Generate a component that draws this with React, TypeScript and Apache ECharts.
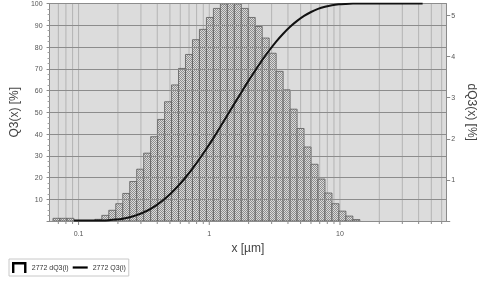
import React, { useEffect, useRef } from 'react';
import * as echarts from 'echarts';

// Class edges in µm and dQ3 per class in %
const classEdges = [
  0.0637, 0.0721, 0.0815, 0.0921, 0.1042, 0.1178, 0.1332, 0.1506, 0.1703, 0.1926,
  0.2178, 0.2462, 0.2784, 0.3148, 0.3559, 0.4024, 0.455, 0.5145, 0.5818, 0.6578,
  0.7438, 0.8411, 0.9512, 1.0755, 1.2161, 1.3751, 1.5549, 1.7582, 1.988, 2.248,
  2.5419, 2.8743, 3.2501, 3.675, 4.1555, 4.6989, 5.3133, 6.008, 6.7935, 7.6818,
  8.6859, 9.8188, 11.102, 12.554, 14.195,
];
const dQ3 = [
  0.065, 0.065, 0.065, 0, 0, 0, 0.04, 0.137, 0.26, 0.42,
  0.67, 0.96, 1.26, 1.65, 2.05, 2.47, 2.9, 3.31, 3.71, 4.05,
  4.41, 4.66, 4.95, 5.17, 5.28, 5.29, 5.28, 5.17, 4.95, 4.73,
  4.45, 4.08, 3.64, 3.19, 2.72, 2.25, 1.8, 1.38, 1.02, 0.68,
  0.42, 0.24, 0.12, 0.035,
];

// Cumulative curve Q3
const q3Sizes = [
  0.0921, 0.1042, 0.1178, 0.1332, 0.1506, 0.1703, 0.1926, 0.2178, 0.2462, 0.2784,
  0.3148, 0.3559, 0.4024, 0.455, 0.5145, 0.5818, 0.6578, 0.7438, 0.8411, 0.9512,
  1.0755, 1.2161, 1.3751, 1.5549, 1.7582, 1.988, 2.248, 2.5419, 2.8743, 3.2501,
  3.675, 4.1555, 4.6989, 5.3133, 6.008, 6.7935, 7.6818, 8.6859, 9.8188, 11.102,
  12.554, 14.195, 42.9,
];
const q3Values = [
  0.2, 0.2, 0.2, 0.2, 0.24, 0.38, 0.64, 1.06, 1.73, 2.69,
  3.95, 5.6, 7.65, 10.1, 13.0, 16.3, 20.0, 24.1, 28.5, 33.2,
  38.1, 43.3, 48.6, 53.9, 59.1, 64.3, 69.2, 74.0, 78.4, 82.5,
  86.1, 89.3, 92.0, 94.3, 96.1, 97.5, 98.5, 99.2, 99.6, 99.8,
  99.95, 100, 100,
];

// Vertical grid positions on the log axis
const gridSizes = [
  0.07, 0.08, 0.09, 0.1, 0.2, 0.3, 0.4, 0.5, 0.6, 0.7, 0.8, 0.9,
  1, 2, 3, 4, 5, 6, 7, 8, 9, 10, 20, 30, 40, 50, 60,
];

const X_MIN = 0.06;
const X_MAX = 65;
const Q3_MAX = 100;
const DQ3_MAX = 5.29;

const legendNames = ['2772 dQ3(i)', '2772 Q3(i)'];

const FONT = 'Liberation Sans';

const isPow10 = (v: number) => {
  const l = Math.log10(v);
  return Math.abs(l - Math.round(l)) < 1e-6;
};

export default function App() {
  const ref = useRef<HTMLDivElement>(null);
  useEffect(() => {
    const chart = echarts.init(ref.current!, null, { renderer: 'svg' });

    const cv = document.createElement('canvas');
    cv.width = 2;
    cv.height = 2;
    const ctx = cv.getContext('2d')!;
    ctx.fillStyle = '#dadada';
    ctx.fillRect(0, 0, 2, 2);
    ctx.fillStyle = '#8e8e8e';
    ctx.fillRect(0, 0, 1, 1);
    ctx.fillRect(1, 1, 1, 1);
    const pattern: any = { image: cv, repeat: 'repeat', imageWidth: 2, imageHeight: 2 };

    const barData = dQ3
      .map((v, i) => [classEdges[i], classEdges[i + 1], v])
      .filter((d) => d[2] > 0);

    const option: any = {
      animation: false,
      textStyle: { fontFamily: FONT },
      grid: {
        left: 45,
        right: 39,
        top: 1,
        bottom: 67,
        show: true,
        backgroundColor: '#dcdcdc',
        borderWidth: 0,
      },
      legend: {
        left: 9,
        top: 259,
        orient: 'horizontal',
        padding: [3, 3, 3, 3],
        itemWidth: 15,
        itemHeight: 11,
        itemGap: 4,
        borderColor: '#c8c8c8',
        borderWidth: 1,
        textStyle: { fontSize: 7, color: '#333', fontFamily: FONT },
        data: [
          {
            name: legendNames[0],
            icon: 'path://M0,0H15V11.4H12.5V2.5H2.5V11.4H0Z',
            itemStyle: { color: '#000' },
          },
          {
            name: legendNames[1],
            icon: 'path://M0,0H15V2.2H0Z',
            itemStyle: { color: '#000' },
          },
        ],
      },
      xAxis: {
        type: 'log',
        logBase: 10,
        min: X_MIN,
        max: X_MAX,
        name: 'x [µm]',
        nameLocation: 'middle',
        nameGap: 20,
        nameTextStyle: { fontSize: 12, color: '#444', fontFamily: FONT },
        axisLine: { show: true, lineStyle: { color: '#7a7a7a', width: 1 } },
        axisTick: { show: false },
        splitLine: { show: false },
        axisLabel: {
          fontSize: 7,
          color: '#555',
          margin: 9,
          formatter: (v: number) => (isPow10(v) ? String(+v.toPrecision(6)) : ''),
        },
      },
      yAxis: [
        {
          type: 'value',
          position: 'left',
          min: 0,
          max: Q3_MAX,
          interval: 10,
          z: 3,
          name: 'Q3(x) [%]',
          nameLocation: 'middle',
          nameRotate: 90,
          nameGap: 25,
          nameTextStyle: { fontSize: 12, color: '#444', fontFamily: FONT },
          axisLine: { show: true, lineStyle: { color: '#8a8a8a' } },
          axisTick: { show: true, length: 3, lineStyle: { color: '#8a8a8a' } },
          minorTick: { show: true, splitNumber: 4, length: 2, lineStyle: { color: '#a0a0a0' } },
          splitLine: { show: true, lineStyle: { color: '#8c8c8c', width: 1 } },
          axisLabel: {
            fontSize: 7,
            color: '#555',
            margin: 7,
            formatter: (v: number) => (v === 0 ? '' : String(v)),
          },
        },
        {
          type: 'value',
          position: 'right',
          min: 0,
          max: DQ3_MAX,
          interval: 1,
          name: 'dQ3(x) [%]',
          nameLocation: 'middle',
          nameRotate: -90,
          nameGap: 17,
          nameTextStyle: { fontSize: 12, color: '#444', fontFamily: FONT },
          axisLine: { show: true, lineStyle: { color: '#8a8a8a' } },
          axisTick: { show: true, length: 4, lineStyle: { color: '#8a8a8a' } },
          splitLine: { show: false },
          axisLabel: {
            fontSize: 7,
            color: '#555',
            margin: 5,
            showMaxLabel: false,
            formatter: (v: number) => (v > 0 && Number.isInteger(v) ? String(v) : ''),
          },
        },
      ],
      series: [
        {
          type: 'custom',
          name: 'vgrid',
          xAxisIndex: 0,
          yAxisIndex: 0,
          z: 1,
          silent: true,
          clip: false,
          encode: { x: 0, y: 1 },
          data: gridSizes.map((v) => [v, 0]),
          renderItem: (params: any, api: any) => {
            const v = api.value(0);
            const p0 = api.coord([v, 0]);
            const p1 = api.coord([v, Q3_MAX]);
            const len = isPow10(v) ? 4 : 3;
            return {
              type: 'group',
              children: [
                {
                  type: 'line',
                  shape: { x1: p0[0], y1: p0[1], x2: p1[0], y2: p1[1] },
                  style: { stroke: '#b4b4b4', lineWidth: 1 },
                },
                {
                  type: 'line',
                  shape: { x1: p0[0], y1: p0[1], x2: p0[0], y2: p0[1] + len },
                  style: { stroke: '#8a8a8a', lineWidth: 1 },
                },
              ],
            };
          },
        },
        {
          type: 'custom',
          name: legendNames[0],
          xAxisIndex: 0,
          yAxisIndex: 1,
          z: 2,
          itemStyle: { color: '#000' },
          encode: { x: [0, 1], y: 2 },
          data: barData,
          renderItem: (params: any, api: any) => {
            const a = api.coord([api.value(0), api.value(2)]);
            const b = api.coord([api.value(1), 0]);
            return {
              type: 'rect',
              shape: { x: a[0], y: a[1], width: b[0] - a[0], height: b[1] - a[1] },
              style: { fill: pattern, stroke: '#5a5a5a', lineWidth: 0.8 },
            };
          },
        },
        {
          type: 'line',
          name: legendNames[1],
          xAxisIndex: 0,
          yAxisIndex: 0,
          z: 5,
          showSymbol: false,
          smooth: 0.25,
          color: '#000',
          lineStyle: { color: '#111', width: 2 },
          data: q3Sizes.map((s, i) => [s, q3Values[i]]),
        },
      ],
    };
    chart.setOption(option);
    return () => chart.dispose();
  }, []);
  return (
    <div
      ref={ref}
      style={{ position: 'fixed', left: 0, top: 0, width: 486, height: 288 }}
    />
  );
}
